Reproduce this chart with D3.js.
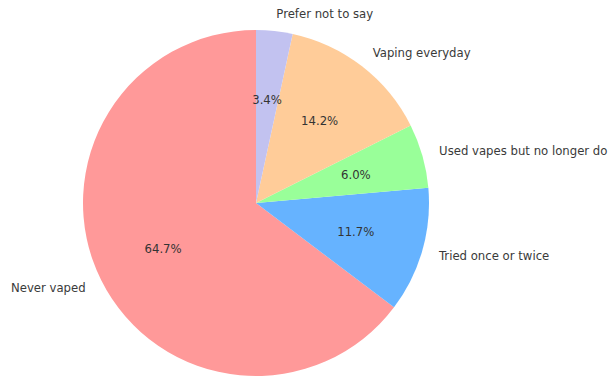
<!DOCTYPE html>
<html>
<head>
<meta charset="utf-8">
<script src="https://cdn.jsdelivr.net/npm/d3@7"></script>
<style>
  html, body { margin: 0; padding: 0; background: #fff; }
  svg { display: block; }
  text { font-family: "DejaVu Sans", sans-serif; }
</style>
</head>
<body>
<svg id="chart" width="611" height="379"></svg>
<script>
// Survey responses: share of respondents (%) in each vaping category
const categories = ["Never vaped", "Tried once or twice", "Used vapes but no longer do", "Vaping everyday", "Prefer not to say"];
const shares = [64.7, 11.7, 6.0, 14.2, 3.4];
const colors = ["#ff9999", "#66b3ff", "#99ff99", "#ffcc99", "#c2c2f0"];

const width = 611, height = 379;
const cx = 256, cy = 203, radius = 173;
const fontSize = 11.7;

const data = categories.map((c, i) => ({ label: c, value: shares[i], color: colors[i] }));

const svg = d3.select("#chart");
const g = svg.append("g").attr("transform", `translate(${cx},${cy})`);

// Slices start at 12 o'clock and run counter-clockwise
const pie = d3.pie()
  .value(d => d.value)
  .sort(null)
  .startAngle(0)
  .endAngle(-2 * Math.PI);

const arcs = pie(data);

const arc = d3.arc().innerRadius(0).outerRadius(radius);
const labelArc = d3.arc().innerRadius(radius * 1.1).outerRadius(radius * 1.1);
const pctArc = d3.arc().innerRadius(radius * 0.6).outerRadius(radius * 0.6);

g.selectAll("path.slice")
  .data(arcs)
  .join("path")
  .attr("class", "slice")
  .attr("d", arc)
  .attr("fill", d => d.data.color);

// Category labels outside the pie
g.selectAll("text.label")
  .data(arcs)
  .join("text")
  .attr("class", "label")
  .attr("transform", d => `translate(${labelArc.centroid(d)})`)
  .attr("text-anchor", d => labelArc.centroid(d)[0] >= 0 ? "start" : "end")
  .attr("dominant-baseline", "central")
  .attr("font-size", fontSize)
  .attr("fill", "#3a3a3a")
  .text(d => d.data.label);

// Percentage labels inside each slice
const fmt = d3.format(".1f");
g.selectAll("text.pct")
  .data(arcs)
  .join("text")
  .attr("class", "pct")
  .attr("transform", d => `translate(${pctArc.centroid(d)})`)
  .attr("text-anchor", "middle")
  .attr("dominant-baseline", "central")
  .attr("font-size", fontSize)
  .attr("fill", "#333")
  .text(d => fmt(d.data.value) + "%");
</script>
</body>
</html>
